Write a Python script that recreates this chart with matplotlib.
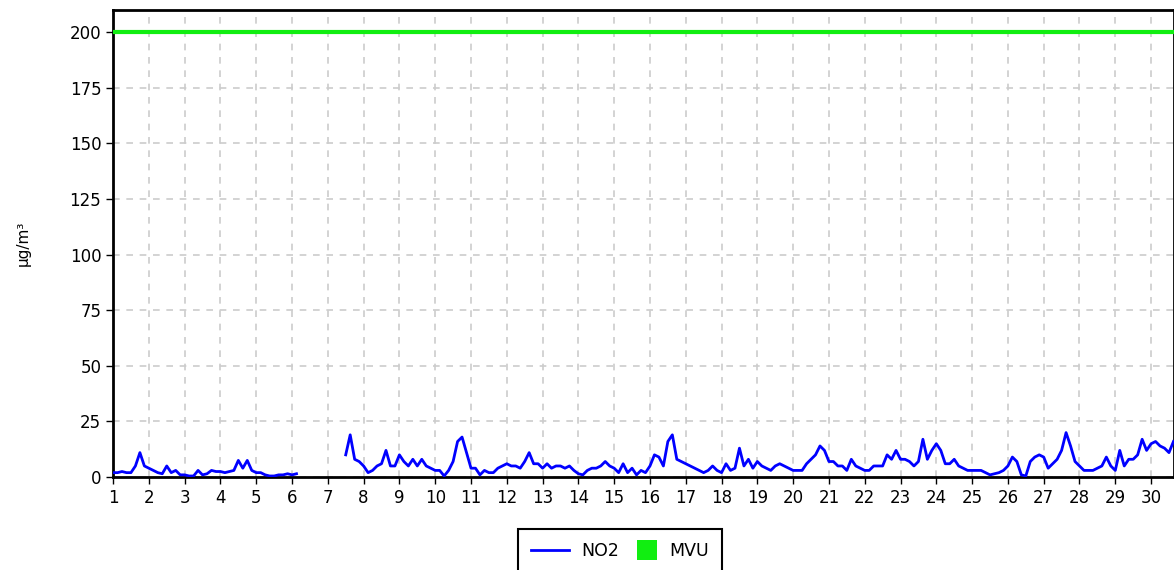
import numpy as np
import matplotlib.pyplot as plt
from matplotlib.lines import Line2D
from matplotlib.patches import Patch, Rectangle
from matplotlib.legend_handler import HandlerPatch

nan = np.nan

# NO2 readings, 8 per day (every 3 hours), starting on day 1
no2_by_day = [
    [2, 2, 2.5, 2, 2, 5, 11, 5],           # 1
    [4, 3, 2, 1.5, 5, 2, 3, 1],            # 2
    [1, 0.5, 0.5, 3, 1, 1.5, 3, 2.5],      # 3
    [2.5, 2, 2.5, 3, 7.5, 4, 7.5, 3],      # 4
    [2, 2, 1, 0.5, 0.5, 1, 1, 1.5],        # 5
    [1, 1.5, nan, nan, nan, nan, nan, nan],  # 6
    [nan, nan, nan, nan, 10, 19, 8, 7],    # 7
    [5, 2, 3, 5, 6, 12, 5, 5],             # 8
    [10, 7, 5, 8, 5, 8, 5, 4],             # 9
    [3, 3, 0.5, 3, 7, 16, 18, 11],         # 10
    [4, 4, 1, 3, 2, 2, 4, 5],              # 11
    [6, 5, 5, 4, 7, 11, 6, 6],             # 12
    [4, 6, 4, 5, 5, 4, 5, 3],              # 13
    [1.5, 1, 3, 4, 4, 5, 7, 5],            # 14
    [4, 2, 6, 2, 4, 1, 3, 2],              # 15
    [5, 10, 9, 5, 16, 19, 8, 7],           # 16
    [6, 5, 4, 3, 2, 3, 5, 3],              # 17
    [2, 6, 3, 4, 13, 5, 8, 4],             # 18
    [7, 5, 4, 3, 5, 6, 5, 4],              # 19
    [3, 3, 3, 6, 8, 10, 14, 12],           # 20
    [7, 7, 5, 5, 3, 8, 5, 4],              # 21
    [3, 3, 5, 5, 5, 10, 8, 12],            # 22
    [8, 8, 7, 5, 7, 17, 8, 12],            # 23
    [15, 12, 6, 6, 8, 5, 4, 3],            # 24
    [3, 3, 3, 2, 1, 1.5, 2, 3],            # 25
    [5, 9, 7, 1, 0.5, 7, 9, 10],           # 26
    [9, 4, 6, 8, 12, 20, 14, 7],           # 27
    [5, 3, 3, 3, 4, 5, 9, 5],              # 28
    [3, 12, 5, 8, 8, 10, 17, 12],          # 29
    [15, 16, 14, 13, 11, 16],              # 30
]
no2 = np.array([v for day in no2_by_day for v in day], dtype=float)
x = 1 + np.arange(len(no2)) / 8
mvu_limit = 200
x_ticks = list(range(1, 31))
y_ticks = [0, 25, 50, 75, 100, 125, 150, 175, 200]

green = '#11ee11'


def square_patch(legend, orig_handle, xdescent, ydescent, width, height, fontsize):
    # square handle, pushed to the right end of the handle box
    side = height * 1.6
    return Rectangle((width - side - xdescent, -ydescent + (height - side) / 2),
                     side, side)


plt.rcParams['font.family'] = ['DejaVu Sans']
fig = plt.figure(figsize=(11.74, 5.70), dpi=100)
ax = fig.add_axes([0.0963, 0.163, 0.904, 0.8195])

ax.plot(x, no2, color='#0000ff', lw=2, zorder=3)
ax.axhline(mvu_limit, color=green, lw=3, zorder=3)

ax.set_xlim(1, 30.65)
ax.set_ylim(0, 210)
ax.set_xticks(x_ticks)
ax.set_yticks(y_ticks)
ax.tick_params(labelsize=12, length=5, width=1)
ax.grid(True, color='#cccccc', lw=1.2, linestyle=(0, (4, 4)))
ax.set_axisbelow(True)
for s in ax.spines.values():
    s.set_linewidth(2)
ax.set_ylabel('µg/m³', fontsize=11, labelpad=28)

mvu_handle = Patch(facecolor=green, edgecolor='none')
handles = [Line2D([0], [0], color='#0000ff', lw=2), mvu_handle]
leg = fig.legend(handles, ['NO2', 'MVU'], loc='upper center',
                 bbox_to_anchor=(0.528, 0.072), ncol=2, fontsize=12.5,
                 fancybox=False, edgecolor='black', framealpha=1,
                 handlelength=2.2, columnspacing=-0.05, handletextpad=0.7,
                 borderpad=0.75, borderaxespad=0,
                 handler_map={mvu_handle: HandlerPatch(patch_func=square_patch)})
leg.get_frame().set_linewidth(1.5)

fig.savefig('out.png', dpi=100)
